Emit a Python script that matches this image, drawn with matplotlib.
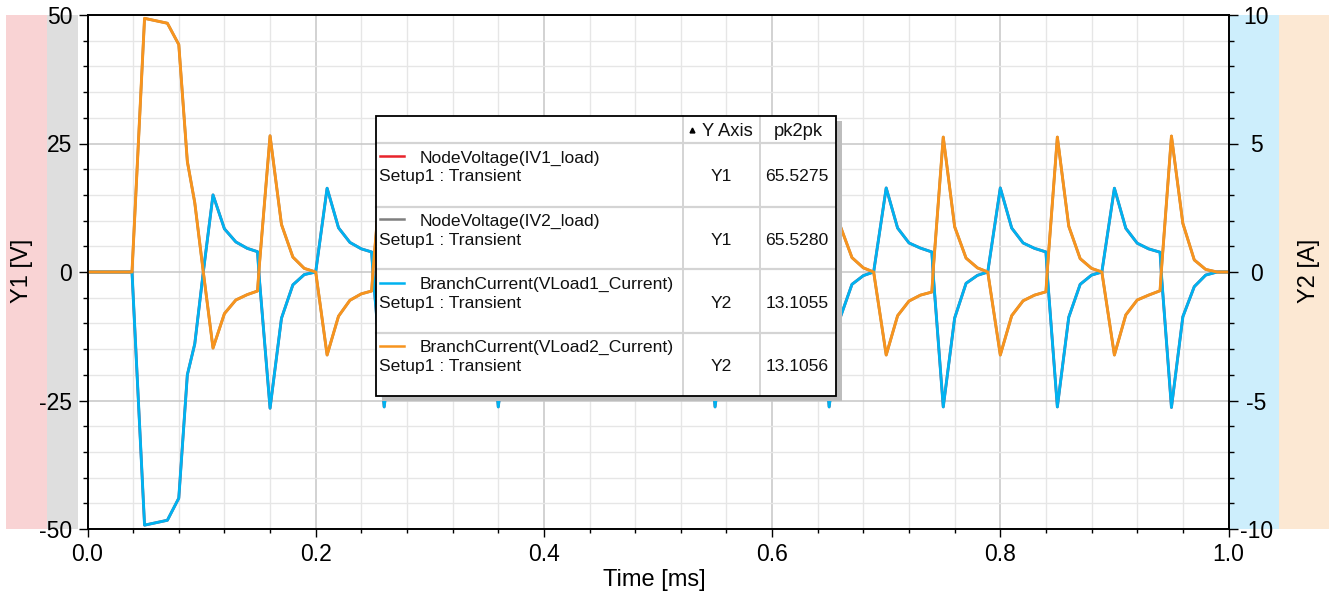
import matplotlib
matplotlib.use('Agg')
import matplotlib.pyplot as plt
from matplotlib.patches import Rectangle
from matplotlib.lines import Line2D
from matplotlib.ticker import MultipleLocator, FixedLocator, FixedFormatter

plt.rcParams['font.family'] = ['Liberation Sans', 'DejaVu Sans']
plt.rcParams['axes.unicode_minus'] = False

# ---------------- data ----------------
time_ms = [0.000, 0.039, 0.050, 0.070, 0.080, 0.0875, 0.094, 0.1015, 0.110, 0.120, 0.130, 0.140, 0.149, 0.1505, 0.160, 0.170, 0.180, 0.190, 0.200,
           0.210, 0.220, 0.230, 0.240, 0.249, 0.2505, 0.260, 0.270, 0.280, 0.290, 0.300,
           0.310, 0.320, 0.330, 0.340, 0.349, 0.3505, 0.360, 0.370, 0.380, 0.390, 0.400,
           0.410, 0.420, 0.430, 0.440, 0.447, 0.4485, 0.455, 0.465, 0.475, 0.485, 0.490,
           0.500, 0.510, 0.520, 0.530, 0.539, 0.5405, 0.550, 0.560, 0.570, 0.580, 0.590,
           0.600, 0.610, 0.620, 0.630, 0.639, 0.6405, 0.650, 0.660, 0.670, 0.680, 0.689,
           0.700, 0.710, 0.720, 0.730, 0.740, 0.7415, 0.750, 0.760, 0.770, 0.780, 0.789,
           0.800, 0.810, 0.820, 0.830, 0.840, 0.8415, 0.850, 0.860, 0.870, 0.880, 0.889,
           0.900, 0.910, 0.920, 0.930, 0.940, 0.9415, 0.950, 0.960, 0.970, 0.980, 0.990, 1.000]

# NodeVoltage(IV1_load) [V]
v_iv1_load = [0, 0, -49.25, -48.3, -44.0, -20.0, -14.0, 0, 15.0, 8.4, 5.85, 4.6, 3.95, -1.0, -26.5, -9.0, -2.5, -0.5, 0,
              16.3, 8.6, 5.75, 4.5, 3.9, -1.0, -26.25, -8.9, -2.5, -0.6, 0,
              16.25, 8.6, 5.7, 4.5, 3.9, -1.0, -26.25, -8.9, -2.5, -0.6, 0,
              16.1, 8.5, 5.6, 4.4, 3.9, -0.75, -21.0, -7.4, -2.1, -0.5, 0,
              16.2, 8.6, 5.7, 4.5, 3.9, -1.0, -26.25, -8.9, -2.5, -0.6, 0,
              16.25, 8.6, 5.7, 4.5, 3.9, -1.0, -26.25, -8.7, -2.4, -0.7, 0,
              16.35, 8.55, 5.65, 4.65, 3.9, -1.4, -26.25, -8.95, -2.2, -0.65, 0,
              16.35, 8.55, 5.65, 4.6, 3.9, -1.4, -26.25, -8.8, -2.4, -0.6, 0,
              16.3, 8.5, 5.6, 4.5, 3.85, -1.4, -26.35, -8.7, -2.85, -0.6, 0, 0]

# NodeVoltage(IV2_load) [V]
v_iv2_load = [0, 0, 49.35, 48.4, 44.25, 21.5, 13.5, 0, -14.8, -8.1, -5.45, -4.4, -3.7, 1.0, 26.5, 9.25, 2.9, 0.7, 0,
              -16.15, -8.6, -5.5, -4.25, -3.7, 1.0, 26.25, 9.0, 2.75, 0.75, 0,
              -16.15, -8.5, -5.5, -4.35, -3.75, 1.0, 26.25, 9.0, 2.75, 0.75, 0,
              -16.0, -8.5, -5.5, -4.3, -3.8, 0.75, 21.0, 7.5, 2.25, 0.6, 0,
              -16.1, -8.5, -5.5, -4.35, -3.75, 1.0, 26.25, 9.0, 2.75, 0.75, 0,
              -16.15, -8.5, -5.6, -4.4, -3.8, 1.0, 26.25, 8.8, 2.8, 0.8, 0,
              -16.15, -8.5, -5.65, -4.5, -3.9, 1.25, 26.25, 8.8, 2.7, 0.8, 0,
              -16.15, -8.5, -5.6, -4.5, -3.85, 1.25, 26.25, 8.9, 2.6, 0.7, 0,
              -16.15, -8.35, -5.45, -4.5, -3.65, 1.25, 26.45, 9.45, 2.35, 0.5, 0, 0]

# BranchCurrent(VLoad1_Current) [A]
i_vload1 = [0, 0, -9.85, -9.66, -8.80, -4.00, -2.80, 0.00, 3.00, 1.68, 1.17, 0.92, 0.79, -0.20, -5.30, -1.80, -0.50, -0.10, 0.00,
            3.26, 1.72, 1.15, 0.90, 0.78, -0.20, -5.25, -1.78, -0.50, -0.12, 0.00,
            3.25, 1.72, 1.14, 0.90, 0.78, -0.20, -5.25, -1.78, -0.50, -0.12, 0.00,
            3.22, 1.70, 1.12, 0.88, 0.78, -0.15, -4.20, -1.48, -0.42, -0.10, 0.00,
            3.24, 1.72, 1.14, 0.90, 0.78, -0.20, -5.25, -1.78, -0.50, -0.12, 0.00,
            3.25, 1.72, 1.14, 0.90, 0.78, -0.20, -5.25, -1.74, -0.48, -0.14, 0.00,
            3.27, 1.71, 1.13, 0.93, 0.78, -0.28, -5.25, -1.79, -0.44, -0.13, 0.00,
            3.27, 1.71, 1.13, 0.92, 0.78, -0.28, -5.25, -1.76, -0.48, -0.12, 0.00,
            3.26, 1.70, 1.12, 0.90, 0.77, -0.28, -5.27, -1.74, -0.57, -0.12, 0.00, 0.00]

# BranchCurrent(VLoad2_Current) [A]
i_vload2 = [0, 0, 9.87, 9.68, 8.85, 4.30, 2.70, 0.00, -2.96, -1.62, -1.09, -0.88, -0.74, 0.20, 5.30, 1.85, 0.58, 0.14, 0.00,
            -3.23, -1.72, -1.10, -0.85, -0.74, 0.20, 5.25, 1.80, 0.55, 0.15, 0.00,
            -3.23, -1.70, -1.10, -0.87, -0.75, 0.20, 5.25, 1.80, 0.55, 0.15, 0.00,
            -3.20, -1.70, -1.10, -0.86, -0.76, 0.15, 4.20, 1.50, 0.45, 0.12, 0.00,
            -3.22, -1.70, -1.10, -0.87, -0.75, 0.20, 5.25, 1.80, 0.55, 0.15, 0.00,
            -3.23, -1.70, -1.12, -0.88, -0.76, 0.20, 5.25, 1.76, 0.56, 0.16, 0.00,
            -3.23, -1.70, -1.13, -0.90, -0.78, 0.25, 5.25, 1.76, 0.54, 0.16, 0.00,
            -3.23, -1.70, -1.12, -0.90, -0.77, 0.25, 5.25, 1.78, 0.52, 0.14, 0.00,
            -3.23, -1.67, -1.09, -0.90, -0.73, 0.25, 5.29, 1.89, 0.47, 0.10, 0.00, 0.00]

trace_names = ["NodeVoltage(IV1_load)", "NodeVoltage(IV2_load)",
               "BranchCurrent(VLoad1_Current)", "BranchCurrent(VLoad2_Current)"]
trace_setup = ["Setup1 : Transient"] * 4
trace_axis = ["Y1", "Y1", "Y2", "Y2"]
trace_pk2pk = ["65.5275", "65.5280", "13.1055", "13.1056"]

x_ticks = [0.0, 0.2, 0.4, 0.6, 0.8, 1.0]
x_ticklabels = ["0.0", "0.2", "0.4", "0.6", "0.8", "1.0"]
y1_ticks = [-50, -25, 0, 25, 50]
y1_ticklabels = ["-50", "-25", "0", "25", "50"]
y2_ticks = [-10, -5, 0, 5, 10]
y2_ticklabels = ["-10", "-5", "0", "5", "10"]

# ---------------- style ----------------
C_RED = '#E8232B'
C_GREY = '#7F7F7F'
C_BLUE = '#00B2F0'
C_ORANGE = '#F7941E'

W, H = 1329, 600
fig = plt.figure(figsize=(W / 100, H / 100), dpi=100)
fig.patch.set_facecolor('white')


def fx(x):
    return x / W


def fy(y):
    return 1 - y / H


L, R, T, B = 87.5, 1228.5, 15, 529

# side strips
for (x0, x1, col) in [(6, 47, '#F9D3D4'), (47, 78, '#DEDEDE'),
                      (R, 1279, '#CDEEFC'), (1279, W, '#FCE8D3')]:
    fig.add_artist(Rectangle((fx(x0), fy(B)), (x1 - x0) / W, (B - T) / H,
                             transform=fig.transFigure, facecolor=col,
                             edgecolor='none', zorder=-5))

ax1 = fig.add_axes([fx(L), fy(B), (R - L) / W, (B - T) / H])
ax2 = ax1.twinx()

ax1.plot(time_ms, v_iv1_load, color=C_RED, lw=1.9, solid_joinstyle='round')
ax1.plot(time_ms, v_iv2_load, color=C_GREY, lw=1.9, solid_joinstyle='round')
ax2.plot(time_ms, i_vload1, color=C_BLUE, lw=2.1, solid_joinstyle='round')
ax2.plot(time_ms, i_vload2, color=C_ORANGE, lw=2.1, solid_joinstyle='round')

ax1.set_xlim(0, 1)
ax1.set_ylim(-50, 50)
ax2.set_ylim(-10, 10)

ax1.xaxis.set_major_locator(FixedLocator(x_ticks))
ax1.xaxis.set_major_formatter(FixedFormatter(x_ticklabels))
ax1.xaxis.set_minor_locator(MultipleLocator(0.04))
ax1.yaxis.set_major_locator(FixedLocator(y1_ticks))
ax1.yaxis.set_major_formatter(FixedFormatter(y1_ticklabels))
ax1.yaxis.set_minor_locator(MultipleLocator(5))
ax2.yaxis.set_major_locator(FixedLocator(y2_ticks))
ax2.yaxis.set_major_formatter(FixedFormatter(y2_ticklabels))
ax2.yaxis.set_minor_locator(MultipleLocator(1))

ax1.set_axisbelow(True)
ax1.grid(which='minor', color='#E6E6E6', lw=1.0)
ax1.grid(which='major', color='#C6C6C6', lw=1.1)

for ax in (ax1, ax2):
    for s in ax.spines.values():
        s.set_color('black')
        s.set_linewidth(1.2)

ax1.tick_params(axis='x', which='major', length=6, width=1, labelsize=16.5, pad=4)
ax1.tick_params(axis='x', which='minor', length=3, width=1)
ax1.tick_params(axis='y', which='major', length=6.5, width=1, labelsize=16.5, pad=4.5)
ax1.tick_params(axis='y', which='minor', length=3.5, width=1)
ax2.tick_params(axis='y', which='major', length=6.5, width=1, labelsize=16.5, pad=13.5)
ax2.tick_params(axis='y', which='minor', length=3.5, width=1)
for lab in ax2.get_yticklabels():
    lab.set_horizontalalignment('center')

# axis titles
fig.text(fx(22), fy(271), "Y1 [V]", rotation=90, ha='center', va='center', fontsize=17)
fig.text(fx(1309), fy(271), "Y2 [A]", rotation=90, ha='center', va='center', fontsize=17)
fig.text(fx(654), fy(580), "Time [ms]", ha='center', va='center', fontsize=17)

# ---------------- legend table ----------------
LX0, LX1, LY0, LY1 = 376, 836, 116, 396
Z = 10
fig.add_artist(Rectangle((fx(LX0 + 6), fy(LY1 + 5)), (LX1 - LX0) / W, (LY1 - LY0) / H,
                         transform=fig.transFigure, facecolor='#BDBDBD',
                         edgecolor='none', zorder=Z))
fig.add_artist(Rectangle((fx(LX0), fy(LY1)), (LX1 - LX0) / W, (LY1 - LY0) / H,
                         transform=fig.transFigure, facecolor='white',
                         edgecolor='none', zorder=Z + 1))
sep_col = '#D4D4D4'
for xc in (683, 760):
    fig.add_artist(Line2D([fx(xc), fx(xc)], [fy(LY0), fy(LY1)], transform=fig.transFigure,
                          color=sep_col, lw=1.4, zorder=Z + 2))
for yr in (143, 207, 269, 333):
    fig.add_artist(Line2D([fx(LX0), fx(LX1)], [fy(yr), fy(yr)], transform=fig.transFigure,
                          color=sep_col, lw=1.6, zorder=Z + 2))
fig.add_artist(Rectangle((fx(LX0), fy(LY1)), (LX1 - LX0) / W, (LY1 - LY0) / H,
                         transform=fig.transFigure, facecolor='none',
                         edgecolor='black', lw=1.3, zorder=Z + 3))

# header
fig.add_artist(Line2D([fx(692)], [fy(130)], transform=fig.transFigure, marker='^',
                      markersize=3.5, color='black', lw=0, zorder=Z + 4))
fig.text(fx(727), fy(132), "Y Axis", ha='center', va='center', fontsize=13.2,
         color='#111111', zorder=Z + 4)
fig.text(fx(798), fy(132), "pk2pk", ha='center', va='center', fontsize=13.2,
         color='#111111', zorder=Z + 4)

sw_colors = [C_RED, C_GREY, C_BLUE, C_ORANGE]
for i in range(4):
    dy = 63.3 * i
    fig.add_artist(Line2D([fx(380), fx(404)], [fy(156 + dy), fy(156 + dy)],
                          transform=fig.transFigure, color=sw_colors[i], lw=1.8, zorder=Z + 4))
    fig.text(fx(420), fy(158 + dy), trace_names[i], ha='left', va='center',
             fontsize=12.6, color='#111111', zorder=Z + 4)
    fig.text(fx(379), fy(177 + dy), trace_setup[i], ha='left', va='center',
             fontsize=12.6, color='#111111', zorder=Z + 4)
    fig.text(fx(721), fy(177 + dy), trace_axis[i], ha='center', va='center',
             fontsize=12.6, color='#111111', zorder=Z + 4)
    fig.text(fx(797), fy(177 + dy), trace_pk2pk[i], ha='center', va='center',
             fontsize=12.6, color='#111111', zorder=Z + 4)

fig.savefig('out.png', dpi=100)
